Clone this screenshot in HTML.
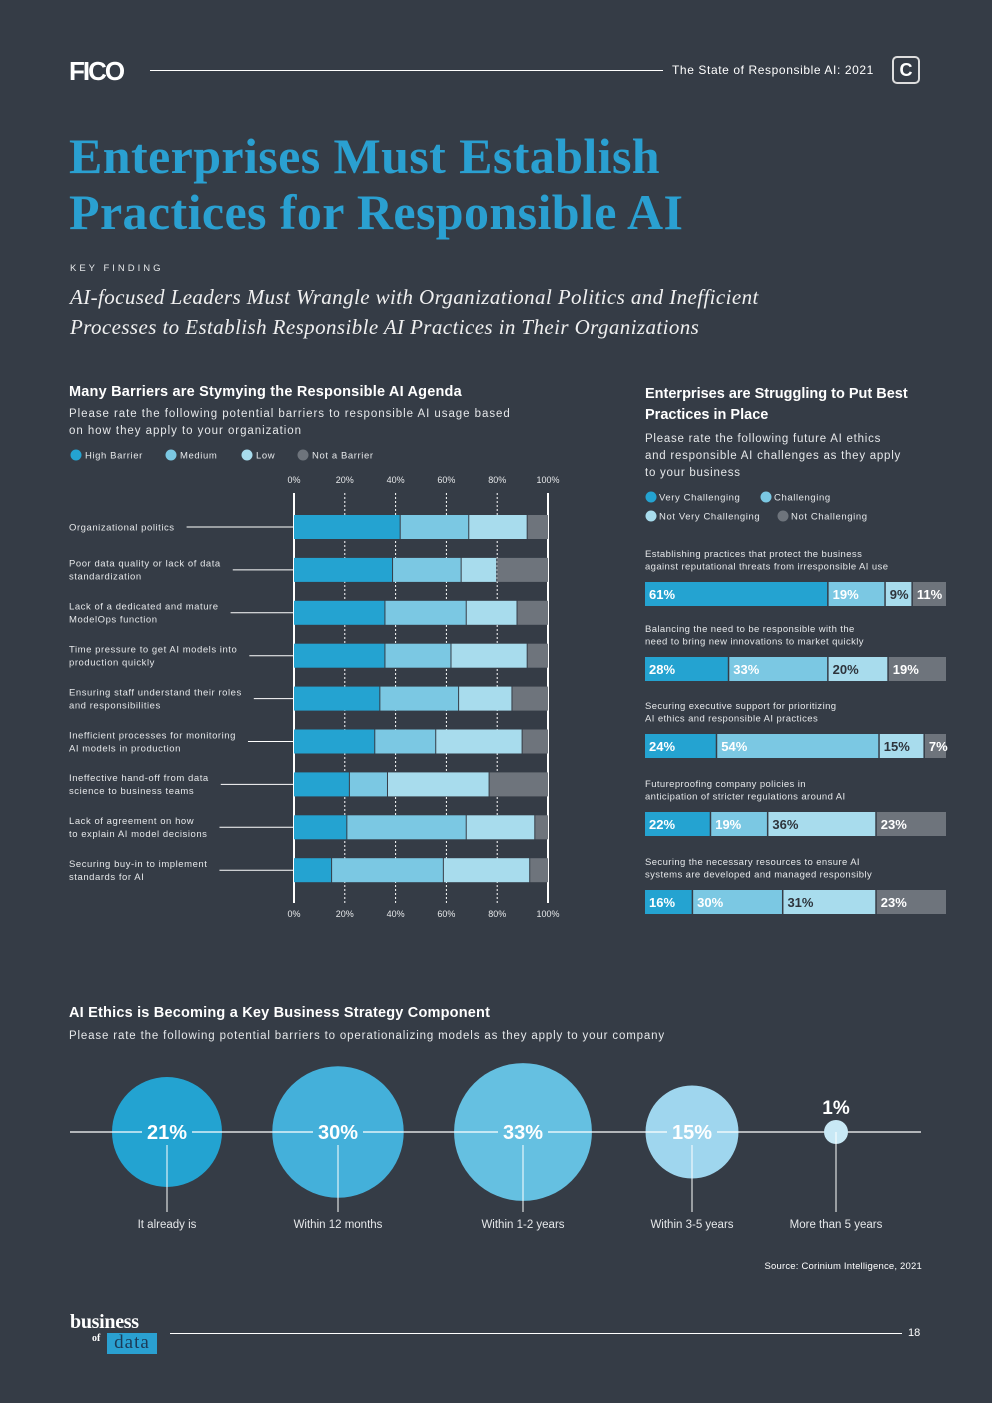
<!DOCTYPE html>
<html><head><meta charset="utf-8">
<style>
html,body{margin:0;padding:0;}
body{width:992px;height:1403px;background:#353c46;position:relative;overflow:hidden;font-family:"Liberation Sans",sans-serif;color:#e6e8ea;}
.abs{position:absolute;}
</style></head>
<body>
<div class="abs" style="left:69px;top:56px;font:bold 26px 'Liberation Sans',sans-serif;color:#fff;letter-spacing:-2px;">FICO</div>
<div class="abs" style="left:150px;top:70px;width:513px;height:1px;background:#fff;"></div>
<div class="abs" style="left:672px;top:63px;font-size:12px;color:#fff;letter-spacing:0.6px;">The State of Responsible AI: 2021</div>
<div class="abs" style="left:892px;top:56px;width:28px;height:28px;border:2px solid #ddd;border-radius:5px;box-sizing:border-box;color:#fff;font:bold 18px 'Liberation Sans',sans-serif;text-align:center;line-height:24px;">C</div>

<div class="abs" style="left:69px;top:128px;font:bold 50px/56px 'Liberation Serif',serif;color:#2aa0d1;letter-spacing:0.4px;">Enterprises Must Establish<br>Practices for Responsible AI</div>
<div class="abs" style="left:70px;top:263px;font-size:9.5px;letter-spacing:3px;color:#e6e8ea;">KEY FINDING</div>
<div class="abs" style="left:70px;top:282px;font:italic 21px/30px 'Liberation Serif',serif;color:#f0f0f0;letter-spacing:0.4px;">AI-focused Leaders Must Wrangle with Organizational Politics and Inefficient<br>Processes to Establish Responsible AI Practices in Their Organizations</div>

<div class="abs" style="left:69px;top:384px;font:bold 14.5px 'Liberation Sans',sans-serif;color:#fff;letter-spacing:0.2px;">Many Barriers are Stymying the Responsible AI Agenda</div>
<div class="abs" style="left:69px;top:406px;font-size:11.5px;line-height:17px;letter-spacing:0.95px;">Please rate the following potential barriers to responsible AI usage based<br>on how they apply to your organization</div>

<div class="abs" style="left:645px;top:384px;font:bold 14.5px/21px 'Liberation Sans',sans-serif;color:#fff;">Enterprises are Struggling to Put Best<br>Practices in Place</div>
<div class="abs" style="left:645px;top:431px;font-size:11.5px;line-height:17px;letter-spacing:0.75px;">Please rate the following future AI ethics<br>and responsible AI challenges as they apply<br>to your business</div>

<svg id="chart" class="abs" style="left:0;top:0;" width="992" height="1403"></svg>

<div class="abs" style="left:69px;top:1005px;font:bold 14.5px 'Liberation Sans',sans-serif;color:#fff;letter-spacing:0.2px;">AI Ethics is Becoming a Key Business Strategy Component</div>
<div class="abs" style="left:69px;top:1030px;font-size:11.5px;letter-spacing:0.85px;">Please rate the following potential barriers to operationalizing models as they apply to your company</div>
<div class="abs" style="right:70px;top:1261px;font-size:9.5px;color:#fff;letter-spacing:0.2px;">Source: Corinium Intelligence, 2021</div>

<div class="abs" style="left:70px;top:1311px;width:90px;height:46px;">
  <div style="position:absolute;left:0;top:0;font:bold 20px 'Liberation Serif',serif;color:#fff;letter-spacing:-0.3px;">business</div>
  <div style="position:absolute;left:22px;top:22px;font:bold 10px 'Liberation Serif',serif;color:#fff;">of</div>
  <div style="position:absolute;left:37px;top:22px;width:50px;height:21px;background:#2aa0d1;color:#1c3b58;font:19px/19px 'Liberation Serif',serif;text-align:center;letter-spacing:1px;">data</div>
</div>
<div class="abs" style="left:170px;top:1333px;width:732px;height:1px;background:#fff;"></div>
<div class="abs" style="left:908px;top:1327px;font-size:11px;color:#fff;">18</div>

<script>
// ---------- Left chart data ----------
const barrierCategories = [
  ["Organizational politics"],
  ["Poor data quality or lack of data","standardization"],
  ["Lack of a dedicated and mature","ModelOps function"],
  ["Time pressure to get AI models into","production quickly"],
  ["Ensuring staff understand their roles","and responsibilities"],
  ["Inefficient processes for monitoring","AI models in production"],
  ["Ineffective hand-off from data","science to business teams"],
  ["Lack of agreement on how","to explain AI model decisions"],
  ["Securing buy-in to implement","standards for AI"]
];
const highBarrier = [42,39,36,36,34,32,22,21,15];
const mediumBarrier = [27,27,32,26,31,24,15,47,44];
const lowBarrier = [23,14,20,30,21,34,40,27,34];
const notBarrier = [8,20,12,8,14,10,23,5,7];
const barrierTicks = ["0%","20%","40%","60%","80%","100%"];
const barrierLegend = ["High Barrier","Medium","Low","Not a Barrier"];

// ---------- Right chart data ----------
const practiceCategories = [
  ["Establishing practices that protect the business","against reputational threats from irresponsible AI use"],
  ["Balancing the need to be responsible with the","need to bring new innovations to market quickly"],
  ["Securing executive support for prioritizing","AI ethics and responsible AI practices"],
  ["Futureproofing company policies in","anticipation of stricter regulations around AI"],
  ["Securing the necessary resources to ensure AI","systems are developed and managed responsibly"]
];
const veryChallenging = [61,28,24,22,16];
const challenging = [19,33,54,19,30];
const notVeryChallenging = [9,20,15,36,31];
const notChallenging = [11,19,7,23,23];
const practiceLegend = ["Very Challenging","Challenging","Not Very Challenging","Not Challenging"];

// ---------- Bubble chart data ----------
const timelineLabels = ["It already is","Within 12 months","Within 1-2 years","Within 3-5 years","More than 5 years"];
const timelineValues = [21,30,33,15,1];

const NS="http://www.w3.org/2000/svg";
const svg=document.getElementById('chart');
const colors=["#24a3d1","#7bc8e3","#a8dced","#6e747c"];
function mk(tag,attrs,parent){const e=document.createElementNS(NS,tag);for(const k in attrs)e.setAttribute(k,attrs[k]);(parent||svg).appendChild(e);return e;}
function txt(s,attrs,parent){const e=mk('text',attrs,parent);e.textContent=s;return e;}

// ---- Left chart ----
const lx0=294,lx1=548;
const xL=v=>lx0+(lx1-lx0)*v/100;
const rowTop0=515,rowStep=42.9,barH=24;
const gL=mk('g',{});


const legX=[70,165,241,297];
barrierLegend.forEach((s,i)=>{
  const c=mk('circle',{cx:legX[i]+6,cy:455,r:5.5,fill:colors[i]},gL);
  
  
  const t=txt(s,{x:legX[i]+15,y:458.5,'font-size':9.5,fill:'#e6e8ea','letter-spacing':0.6},gL);
  
  
});
barrierTicks.forEach((s,i)=>{
  const v=i*20;
  [483,917].forEach(y=>{
    const t=txt(s,{x:xL(v),y:y,'font-size':9,fill:'#e6e8ea','text-anchor':'middle'},gL);
    
    
  });
  if(v>0&&v<100){
    const l=mk('line',{x1:xL(v),x2:xL(v),y1:493,y2:903,stroke:'#fff','stroke-width':1,'stroke-dasharray':'2,2'},gL);
    
    
  }
});
[lx0,lx1].forEach(x=>{
  const l=mk('line',{x1:x,x2:x,y1:493,y2:903,stroke:'#fff','stroke-width':2},gL);
  
  
});
const series=[highBarrier,mediumBarrier,lowBarrier,notBarrier];
barrierCategories.forEach((lines,r)=>{
  const y=rowTop0+r*rowStep, cy=y+barH/2;
  let acc=0;
  series.forEach((s,k)=>{
    const rc=mk('rect',{x:xL(acc),y:y,width:xL(acc+s[r])-xL(acc)-(k<3?1:0),height:barH,fill:colors[k]},gL);
    
    
    acc+=s[r];
  });
  let maxW=0;
  lines.forEach((ln,j)=>{
    const ty=cy+3.3+(j-(lines.length-1)/2)*13;
    const t=txt(ln,{x:69,y:ty,'font-size':9.5,fill:'#e6e8ea','letter-spacing':0.55},gL);
    
    
    maxW=Math.max(maxW,t.getComputedTextLength());
  });
  const l=mk('line',{x1:69+maxW+12,x2:lx0,y1:cy,y2:cy,stroke:'#fff','stroke-width':1},gL);
  
  
});

// ---- Right chart ----
const rx0=645,rx1=946;
const xR=v=>rx0+(rx1-rx0)*v/100;
const gR=mk('g',{});


const rLeg=[[645,497],[760,497],[645,516],[777,516]];
practiceLegend.forEach((s,i)=>{
  const c=mk('circle',{cx:rLeg[i][0]+6,cy:rLeg[i][1],r:5.5,fill:colors[i]},gR);
  
  
  const t=txt(s,{x:rLeg[i][0]+14,y:rLeg[i][1]+3.5,'font-size':9.5,fill:'#e6e8ea','letter-spacing':0.6},gR);
  
  
});
const rSeries=[veryChallenging,challenging,notVeryChallenging,notChallenging];
const rBarTops=[582,657,734,812,890];
practiceCategories.forEach((lines,r)=>{
  const y=rBarTops[r];
  lines.forEach((ln,j)=>{
    const t=txt(ln,{x:645,y:y-25+j*12.5,'font-size':9.5,fill:'#e6e8ea','letter-spacing':0.4},gR);
    
    
  });
  let acc=0;
  rSeries.forEach((s,k)=>{
    const rc=mk('rect',{x:xR(acc),y:y,width:xR(acc+s[r])-xR(acc)-(k<3?1.5:0),height:24,fill:colors[k]},gR);
    
    
    const t=txt(s[r]+'%',{x:xR(acc)+4,y:y+17,'font-size':13,'font-weight':'bold',fill:k==2?'#2e343c':'#fff'},gR);
    
    
    acc+=s[r];
  });
});

// ---- Bubble chart ----
const gB=mk('g',{});


const bubbleCx=[167,338,523,692,836];
const bubbleFill=["#23a3d1","#44b0da","#65c0e1","#9fd6ee","#c8e8f5"];
const lineY=1132;
const hl=mk('line',{x1:70,x2:921,y1:lineY,y2:lineY,stroke:'#fff','stroke-width':1.2},gB);


const rad=v=>Math.max(8,12*Math.sqrt(v));
timelineValues.forEach((v,i)=>{
  const cx=bubbleCx[i], r=rad(v);
  const c=mk('circle',{cx:cx,cy:lineY,r:r,fill:bubbleFill[i]},gB);
  
  
  const vl=mk('line',{x1:cx,x2:cx,y1:v>=5?lineY+13:lineY,y2:1212,stroke:'#fff','stroke-width':1},gB);
  
  
  if(v>=5){
    const hl2=mk('line',{x1:cx-r,x2:cx+r,y1:lineY,y2:lineY,stroke:'#fff','stroke-width':1.2},gB);
    
    
    const bg=mk('rect',{x:cx-25,y:lineY-9,width:50,height:18,fill:bubbleFill[i]},gB);
    
    
    const t=txt(v+'%',{x:cx,y:lineY+7,'font-size':20,'font-weight':'bold',fill:'#fff','text-anchor':'middle'},gB);
    
    
  } else {
    const t=txt(v+'%',{x:cx,y:lineY-18,'font-size':19,'font-weight':'bold',fill:'#fff','text-anchor':'middle'},gB);
    
    
  }
  const lt=txt(timelineLabels[i],{x:cx,y:1228,'font-size':11.5,fill:'#e6e8ea','text-anchor':'middle'},gB);
  
  
});
</script>
</body></html>
